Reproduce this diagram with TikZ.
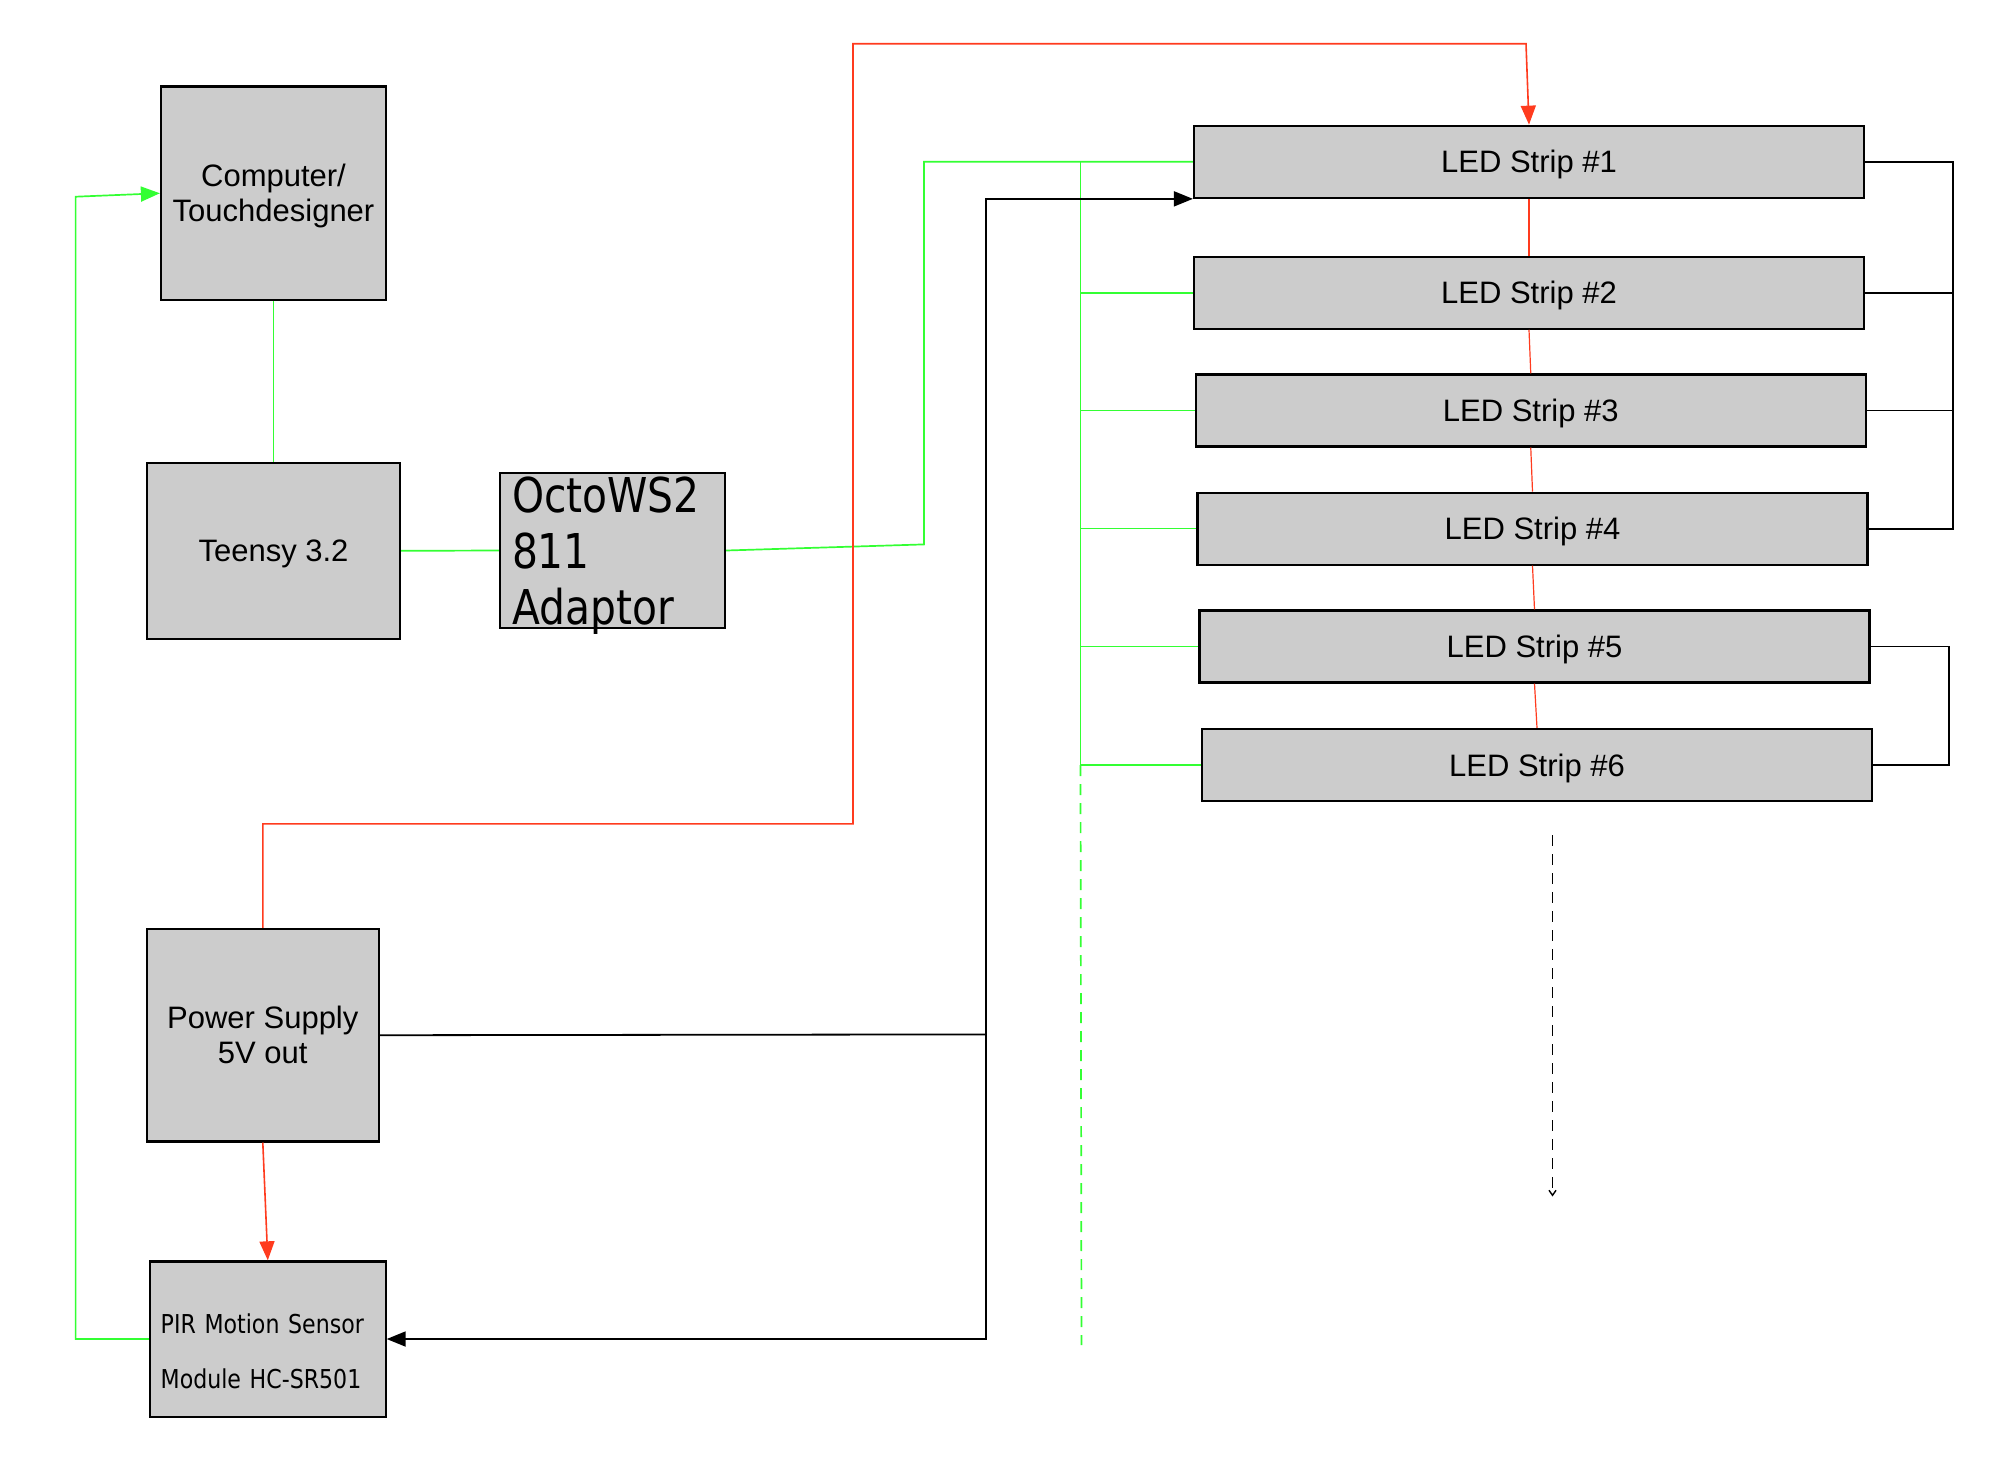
\documentclass[tikz,border=0pt]{standalone}
\usepackage{fontspec}
\setmainfont{Liberation Sans}
\newfontfamily\octofont[FakeStretch=0.85]{DejaVu Sans}
\usetikzlibrary{arrows.meta, positioning, calc}
\definecolor{boxgray}{HTML}{CCCCCC}
\definecolor{sigreen}{HTML}{33FF33}
\definecolor{pwred}{HTML}{FF3B1E}
\tikzset{
  box/.style={draw, line width=1.1pt, fill=boxgray, inner sep=0pt, align=center, text depth=0pt,
    font=\fontsize{15.5}{17.5}\selectfont},
  strip/.style={box, minimum width=335pt, minimum height=36pt},
  sig/.style={sigreen, line width=0.85pt},
  pwr/.style={pwred, line width=0.8pt},
  gnd/.style={black, line width=0.9pt},
  sketchdash/.style={dash pattern=on 5.5pt off 4pt},
}

\begin{document}
\begin{tikzpicture}[x=0.5pt, y=-0.5pt, >={Triangle[length=9.5pt,width=7.5pt]}]
\useasboundingbox (0,0) rectangle (1992,1458);
% controller side
\node[box, minimum width=112.5pt, minimum height=106.75pt] (comp) at (273.5,193.25) {Computer/\\Touchdesigner};
\node[box, minimum width=126.5pt, minimum height=88.2pt] (teensy) at (273.5,550.8) {Teensy 3.2};
\node[box, align=left, text width=100.5pt, inner xsep=6pt, minimum height=77.5pt,
  text height=18pt, text depth=56.5pt,
  font=\octofont\fontsize{24}{28}\selectfont] (octo) at (612.5,550.5) {OctoWS2\\811\\Adaptor};
\node[box, minimum width=115.8pt, minimum height=106.2pt] (psu) at (262.8,1035.2) {Power Supply\\5V out};
\node[box, align=left, text width=107.1pt, inner xsep=5.35pt, minimum height=77.6pt,
  text height=11pt, text depth=17pt,
  font=\octofont\fontsize{13}{27.5}\selectfont] (pir) at (267.8,1339) {PIR Motion Sensor\\Module HC-SR501};
% led strips
\foreach \i/\x/\y in {1/1529/161.75, 2/1529/292.65, 3/1530.75/410.4, 4/1532.5/528.6, 5/1534.5/646.5, 6/1537/765}
  \node[strip] (s\i) at (\x,\y) {LED Strip \#\i};
\coordinate (gbus) at (1080.5,0);
\coordinate (gA) at (924,544.4);
\coordinate (gL) at (75.6,196.7);
\coordinate (gend) at (1081.5,1345);
\coordinate (rA) at (853,823.8);
\coordinate (rB) at (1526,43.7);
\coordinate (pj) at (986,1034.4);
\coordinate (rbus) at (1953,0);
\coordinate (rbusb) at (1949,0);
\coordinate (dt) at (1552.5,835);
\coordinate (db) at (1552.5,1196.5);
% data lines
\draw[sig] (comp.south) -- (teensy.north);
\draw[sig] (teensy.east) -- (octo.west);
\draw[sig] (octo.east) -- (gA) |- (s1.west);
\draw[sig] (s1.west -| gbus) -- (s6.west -| gbus);
\foreach \i in {2,...,6}
  \draw[sig] (s\i.west -| gbus) -- (s\i.west);
\draw[sig, sketchdash] (s6.west -| gbus) -- (gend);
\draw[sig, ->] (pir.west) -| (gL) -- (comp.west);
% power
\draw[pwr, ->] (psu.north) |- (rA) |- (rB) -- (s1.north);
\draw[pwr, ->] (psu.south) -- (pir.north);
\foreach \i/\j in {1/2, 2/3, 3/4, 4/5, 5/6}
  \draw[pwr, line width=0.6pt] (s\i.south) -- (s\j.north);
% ground
\draw[gnd] (psu.east) -- (pj);
\draw[gnd, ->] (pj) |- (s1.south west);
\draw[gnd, ->] (pj) |- (pir.east);
\draw[gnd] (s1.east) -- (s1.east -| rbus) |- (s4.east);
\draw[gnd] (s2.east) -- (s2.east -| rbus);
\draw[gnd] (s3.east) -- (s3.east -| rbus);
\draw[gnd] (s5.east) -- (s5.east -| rbusb) |- (s6.east);
\draw[gnd, line width=0.7pt, sketchdash, -{Straight Barb[length=2.5pt,width=3.5pt]}] (dt) -- (db);
\end{tikzpicture}
\end{document}
